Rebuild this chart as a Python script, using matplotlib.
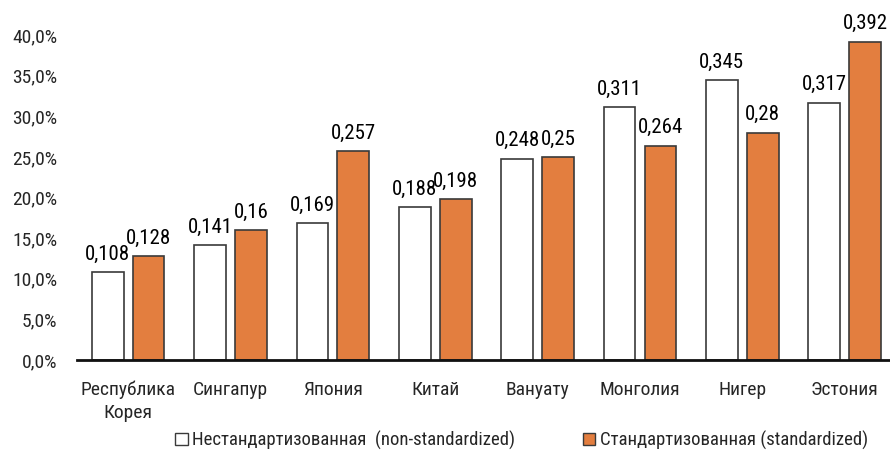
import numpy as np
import matplotlib
matplotlib.use("Agg")
import matplotlib.pyplot as plt
from matplotlib.patches import Patch
from matplotlib.ticker import FuncFormatter

plt.rcParams["font.family"] = ["Roboto Condensed", "DejaVu Sans"]

countries = ["Республика\nКорея", "Сингапур", "Япония", "Китай",
             "Вануату", "Монголия", "Нигер", "Эстония"]
non_standardized = [0.108, 0.141, 0.169, 0.188, 0.248, 0.311, 0.345, 0.317]
standardized = [0.128, 0.16, 0.257, 0.198, 0.25, 0.264, 0.28, 0.392]
series_names = ["Нестандартизованная  (non-standardized)",
                "Стандартизованная (standardized)"]

ORANGE = "#E37E3F"
EDGE = "#3a3a3a"
TEXT = "#262626"

fig = plt.figure(figsize=(8.9, 4.5), dpi=100)
ax = fig.add_axes([0.0865, 0.2, 0.92, 0.722])

x = np.arange(len(countries))
w = 0.31
off = 0.2
b1 = ax.bar(x - off, non_standardized, w, color="white", edgecolor=EDGE, linewidth=1.2)
b2 = ax.bar(x + off, standardized, w, color=ORANGE, edgecolor=EDGE, linewidth=1.2)

def fmt(v):
    return f"{v:g}".replace(".", ",")

# value labels over each bar
for bars, vals in ((b1, non_standardized), (b2, standardized)):
    for rect, v in zip(bars, vals):
        ax.annotate(fmt(v), (rect.get_x() + rect.get_width() / 2, v),
                    xytext=(0, 6), textcoords="offset points",
                    ha="center", va="bottom", fontsize=15, color="black",
                    annotation_clip=False)

ax.set_xlim(-0.5, len(countries) - 0.5)
ax.set_ylim(0, 0.40)
ax.set_yticks(np.arange(0, 0.401, 0.05))
ax.yaxis.set_major_formatter(FuncFormatter(lambda v, _: f"{v * 100:.1f}%".replace(".", ",")))
ax.set_xticks(x)
ax.set_xticklabels(countries, linespacing=1.35)

for s in ("top", "right", "left"):
    ax.spines[s].set_visible(False)
ax.spines["bottom"].set_linewidth(2)
ax.spines["bottom"].set_color("#111111")

ax.tick_params(axis="y", length=0, pad=14, labelsize=14, labelcolor=TEXT)
ax.tick_params(axis="x", length=0, pad=15, labelsize=14, labelcolor=TEXT)

handles = [Patch(facecolor="white", edgecolor=EDGE, linewidth=1),
           Patch(facecolor=ORANGE, edgecolor=EDGE, linewidth=1)]
fig.legend(handles, series_names, loc="center", bbox_to_anchor=(0.586, 0.022),
           ncol=2, frameon=False, fontsize=13.5, handlelength=0.65, handleheight=0.65,
           handletextpad=0.25, columnspacing=3.6, labelcolor=TEXT)

fig.savefig("out.png", dpi=100)
